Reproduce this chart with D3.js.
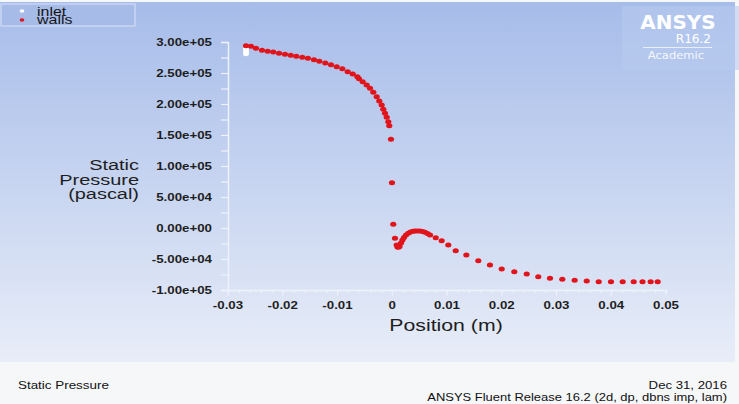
<!DOCTYPE html>
<html>
<head>
<meta charset="utf-8">
<script src="https://cdn.jsdelivr.net/npm/d3@7"></script>
<style>
  body { margin: 0; background: #f6f7f9; }
  svg { display: block; font-family: "Liberation Sans", Arial, sans-serif; }
</style>
</head>
<body>
<svg id="chart" width="739" height="404"></svg>
<script>
// position (m) / static pressure (Pa)
const wallsX = [-0.02671, -0.0258, -0.02489, -0.02379, -0.02275, -0.02173, -0.02068, -0.01959, -0.01855, -0.01753,
  -0.01643, -0.0154, -0.0143, -0.01332, -0.01223, -0.01119, -0.01015, -0.00912, -0.00814, -0.00722,
  -0.00638, -0.00607, -0.0054, -0.00467, -0.00406, -0.00346, -0.00284, -0.00237, -0.00193, -0.00163,
  -0.00132, -0.00101, -0.00072, -0.00054, -0.00023, -0.00005, 0.00019, 0.0005,
  0.00081, 0.00096, 0.00111, 0.00133, 0.0016, 0.00187, 0.00215, 0.00251, 0.00293, 0.00333,
  0.00379, 0.00416, 0.00461, 0.00507, 0.00553, 0.00598, 0.00644, 0.0069,
  0.00794, 0.00903, 0.01024, 0.01159, 0.01353, 0.01572, 0.01785, 0.01999, 0.02229, 0.02456,
  0.02667, 0.02881, 0.03106, 0.03332, 0.03552, 0.03771, 0.03995, 0.04209, 0.0441, 0.04571,
  0.0472, 0.04848];
const wallsP = [294000, 293100, 289800, 286600, 285000, 283900, 281800, 280200, 278500, 276900,
  275300, 273700, 271500, 268900, 266100, 263400, 260200, 256900, 252100, 248400,
  244000, 240800, 236000, 230600, 225300, 218900, 211800, 204800, 198400, 191500,
  185000, 178600, 171500, 165000, 143100, 73100, 6000, -16600,
  -27400, -30700, -31100, -29800, -24200, -19400, -15300, -11300, -8500, -6500,
  -5300, -4800, -4800, -4800, -5600, -6900, -8900, -11300,
  -15600, -20500, -27400, -36600, -43500, -52700, -59700, -66100, -70500, -74200,
  -78600, -81100, -82700, -84400, -85500, -86600, -86600, -86600, -86600, -86600,
  -86600, -86600];
const inletX = [-0.02671, -0.02671, -0.02671];
const inletP = [290000, 285000, 281000];

const xTicks = [-0.03, -0.02, -0.01, 0, 0.01, 0.02, 0.03, 0.04, 0.05];
const xTickLabels = ["-0.03", "-0.02", "-0.01", "0", "0.01", "0.02", "0.03", "0.04", "0.05"];
const yTicks = [300000, 250000, 200000, 150000, 100000, 50000, 0, -50000, -100000];
const yTickLabels = ["3.00e+05", "2.50e+05", "2.00e+05", "1.50e+05", "1.00e+05", "5.00e+04", "0.00e+00", "-5.00e+04", "-1.00e+05"];

const svg = d3.select("#chart");
const W = 739, H = 404;
const SX = 1.33; // the screenshot is stretched sideways

function txt(px, py, s, size, anchor, opts = {}) {
  return svg.append("text")
    .attr("transform", `translate(${px},${py}) scale(${opts.sx || SX},1)`)
    .attr("text-anchor", anchor)
    .attr("font-size", size)
    .attr("font-weight", opts.bold ? "bold" : "normal")
    .attr("fill", opts.fill || "#1e1e1e")
    .text(s);
}

// background gradient
const defs = svg.append("defs");
const grad = defs.append("linearGradient").attr("id", "bg").attr("x1", 0).attr("y1", 0).attr("x2", 0).attr("y2", 1);
grad.append("stop").attr("offset", "0%").attr("stop-color", "#a6bce9");
grad.append("stop").attr("offset", "100%").attr("stop-color", "#e8edf8");
svg.append("rect").attr("width", W).attr("height", H).attr("fill", "#f6f7f9");
svg.append("rect").attr("x", 0).attr("y", 2).attr("width", W - 4).attr("height", 360).attr("fill", "url(#bg)");

const x = d3.scaleLinear().domain([-0.03, 0.05]).range([228, 666]);
const y = d3.scaleLinear().domain([-100000, 300000]).range([290, 42]);

const axisColor = "#eef2fb";

// y axis
const yAxis = svg.append("g").attr("transform", "translate(228,0)");
yAxis.call(d3.axisLeft(y).tickValues(d3.range(-100000, 300001, 25000)).tickSize(7).tickFormat(""));
yAxis.select(".domain").attr("stroke", axisColor).attr("stroke-width", 1.5);
yAxis.selectAll(".tick line").attr("stroke", axisColor).attr("stroke-width", 1.2);
yTicks.forEach((t, i) => txt(212, y(t) + 3.5, yTickLabels[i], 10, "end", { bold: true }));

// x axis
const xAxis = svg.append("g").attr("transform", "translate(0,290)");
xAxis.call(d3.axisBottom(x).tickValues(d3.range(-0.03, 0.0501, 0.002)).tickSize(3).tickFormat(""));
xAxis.select(".domain").attr("stroke", axisColor).attr("stroke-width", 1.5);
xAxis.selectAll(".tick line").attr("stroke", axisColor);
xTicks.forEach((t, i) => {
  svg.append("line").attr("x1", x(t)).attr("x2", x(t)).attr("y1", 290).attr("y2", 296).attr("stroke", axisColor);
  txt(x(t), 309, xTickLabels[i], 10, "middle", { bold: true });
});

// axis titles
["Static", "Pressure", "(pascal)"].forEach((s, i) => txt(139, 170 + i * 14.5, s, 15, "end"));
txt(446, 331, "Position (m)", 16, "middle");

// points
svg.append("g").selectAll("ellipse")
  .data(inletX.map((v, i) => [v, inletP[i]]))
  .join("ellipse")
  .attr("cx", d => x(d[0])).attr("cy", d => y(d[1])).attr("rx", 3).attr("ry", 2.4)
  .attr("fill", "#ffffff");
svg.append("g").selectAll("ellipse")
  .data(wallsX.map((v, i) => [v, wallsP[i]]))
  .join("ellipse")
  .attr("cx", d => x(d[0])).attr("cy", d => y(d[1])).attr("rx", 3.1).attr("ry", 2.5)
  .attr("fill", "#e0141a");

// legend
svg.append("rect").attr("x", 1).attr("y", 4).attr("width", 134).attr("height", 22)
  .attr("fill", "#a6bbe8").attr("stroke", "#d3ddf3").attr("stroke-width", 1.2);
[["inlet", "#ffffff"], ["walls", "#e0141a"]].forEach((d, i) => {
  svg.append("ellipse").attr("cx", 22).attr("cy", 11 + i * 9).attr("rx", 2.3).attr("ry", 1.8).attr("fill", d[1]);
  txt(37, 15.5 + i * 8.5, d[0], 12, "start", { fill: "#151515" });
});

// logo
svg.append("rect").attr("x", 622).attr("y", 6).attr("width", 117).attr("height", 64)
  .attr("fill", "#b7c9ee").attr("opacity", 0.6);
txt(678, 29, "ANSYS", 19, "middle", { sx: 1.05, bold: true, fill: "#ffffff" }).attr("font-family", "DejaVu Sans");
txt(711, 43, "R16.2", 11.5, "end", { sx: 1.05, fill: "#ffffff" }).attr("font-family", "DejaVu Sans");
svg.append("line").attr("x1", 643).attr("x2", 712).attr("y1", 47.5).attr("y2", 47.5)
  .attr("stroke", "#e8eefb").attr("stroke-width", 1);
txt(676, 59, "Academic", 11, "middle", { sx: 1.05, fill: "#f4f7fd" }).attr("font-family", "DejaVu Sans");

// footer
txt(18, 389, "Static Pressure", 11, "start", { sx: 1.22, fill: "#111" });
txt(727, 389, "Dec 31, 2016", 11, "end", { sx: 1.2, fill: "#111" });
txt(727, 401, "ANSYS Fluent Release 16.2 (2d, dp, dbns imp, lam)", 11, "end", { sx: 1.18, fill: "#111" });
</script>
</body>
</html>
